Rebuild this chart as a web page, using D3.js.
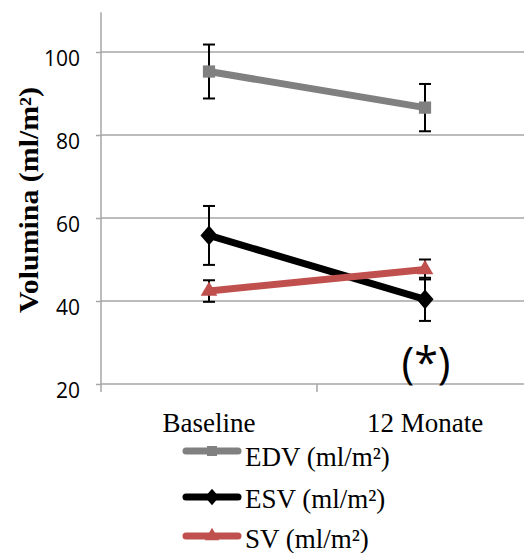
<!DOCTYPE html>
<html><head><meta charset="utf-8">
<script src="https://cdn.jsdelivr.net/npm/d3@7"></script>
<style>body{margin:0;background:#fff}svg{display:block}</style>
</head><body>
<svg id="c" width="524" height="553"></svg>
<script>
const categories = ["Baseline", "12 Monate"];
const seriesNames = ["EDV (ml/m²)", "ESV (ml/m²)", "SV (ml/m²)"];
const edv = [95.3, 86.6];
const edvErr = [6.5, 5.7];
const esv = [55.8, 40.4];
const esvErr = [7.1, 5.2];
const sv = [42.4, 47.6];
const svErr = [2.6, 2.4];
const yTicks = [20, 40, 60, 80, 100];
const colors = ["#808080", "#000000", "#C0504D"];

const diamond = { draw(ctx, size) { const w = Math.sqrt(size) * 0.62, h = w * 1.15;
  ctx.moveTo(0, -h); ctx.lineTo(w, 0); ctx.lineTo(0, h); ctx.lineTo(-w, 0); ctx.closePath(); } };
const markers = [d3.symbolSquare, diamond, d3.symbolTriangle];
const serif = "'Liberation Serif', 'Times New Roman', serif";
const sans = "'Open Sans', sans-serif";

const svg = d3.select("#c");
const x = d3.scaleBand().domain(categories).range([101, 533]);
const y = d3.scaleLinear().domain([20, 110]).range([384, 10.5]);

// gridlines
svg.append("g").selectAll("line").data(yTicks.filter(t => t > 20)).join("line")
  .attr("x1", 101).attr("x2", 524).attr("y1", d => y(d)).attr("y2", d => y(d))
  .attr("stroke", "#a6a6a6").attr("stroke-width", 1.5);

// y axis
const ya = svg.append("g").attr("transform", "translate(101,0)")
  .call(d3.axisLeft(y).tickValues(yTicks).tickSize(5).tickPadding(16));
ya.select(".domain").attr("d", `M0,${y(109.6)}V${y(20)}`);
ya.selectAll("path,line").attr("stroke", "#a6a6a6").attr("stroke-width", 1.5);
ya.selectAll("text").attr("font-family", sans).attr("font-size", 21).attr("fill", "#000")
  .attr("dy", null).attr("y", 13);

// x axis
const xa = svg.append("g").attr("transform", `translate(0,${y(20)})`)
  .call(d3.axisBottom(x).tickSize(0).tickPadding(0));
xa.select(".domain").attr("d", `M101,0H524`).attr("stroke", "#a6a6a6").attr("stroke-width", 1.5);
xa.selectAll("text").attr("font-family", serif).attr("font-size", 27).attr("fill", "#000")
  .attr("dy", null).attr("y", 48);
const bounds = [x.range()[0], x(categories[1]), x.range()[1]];
svg.append("g").selectAll("line").data(bounds).join("line")
  .attr("x1", d => d).attr("x2", d => d).attr("y1", y(20)).attr("y2", y(20) + 8)
  .attr("stroke", "#a6a6a6").attr("stroke-width", 1.5);

// y title
svg.append("text").attr("transform", "translate(38,200) rotate(-90)")
  .attr("text-anchor", "middle").attr("font-family", serif)
  .attr("font-weight", "bold").attr("font-size", 27)
  .attr("textLength", 226).attr("lengthAdjust", "spacingAndGlyphs")
  .text("Volumina (ml/m²)");

const cx = d => x(d) + x.bandwidth() / 2;
const data = [[edv, edvErr], [esv, esvErr], [sv, svErr]];
const line = d3.line().x((d, i) => cx(categories[i])).y(d => y(d));

data.forEach(([vals, errs]) => {
  const g = svg.append("g");
  vals.forEach((v, i) => {
    const px = cx(categories[i]);
    g.append("line").attr("x1", px).attr("x2", px).attr("y1", y(v + errs[i])).attr("y2", y(v - errs[i]))
      .attr("stroke", "#000").attr("stroke-width", 2);
    [v + errs[i], v - errs[i]].forEach(e => g.append("line").attr("x1", px - 6).attr("x2", px + 6)
      .attr("y1", y(e)).attr("y2", y(e)).attr("stroke", "#000").attr("stroke-width", 2));
  });
});
data.forEach(([vals], s) => {
  const g = svg.append("g");
  g.append("path").datum(vals).attr("d", line).attr("fill", "none")
    .attr("stroke", colors[s]).attr("stroke-width", 7);
  g.selectAll("path.m").data(vals).join("path").attr("class", "m")
    .attr("d", d3.symbol().type(markers[s]).size(s === 0 ? 150 : (s === 1 ? 190 : 120)))
    .attr("transform", (d, i) => `translate(${cx(categories[i])},${y(d)})`)
    .attr("fill", colors[s]);
});

// significance
svg.append("text").attr("x", cx(categories[1]) + 1).attr("y", 378).attr("text-anchor", "middle")
  .attr("font-family", sans).attr("font-size", 43).text("(*)");

// legend
const lg = svg.append("g");
const ly = [451, 497, 536];
const tb = [466, 508, 548];
seriesNames.forEach((n, s) => {
  lg.append("line").attr("x1", 186).attr("x2", 238).attr("y1", ly[s]).attr("y2", ly[s])
    .attr("stroke", colors[s]).attr("stroke-width", 7).attr("stroke-linecap", "round");
  lg.append("path").attr("d", d3.symbol().type(markers[s]).size(s === 0 ? 100 : (s === 1 ? 130 : 90)))
    .attr("transform", `translate(212,${ly[s]})`).attr("fill", colors[s]);
  lg.append("text").attr("x", 245).attr("y", tb[s])
    .attr("font-family", serif).attr("font-size", 27).text(n);
});
</script>
</body></html>
